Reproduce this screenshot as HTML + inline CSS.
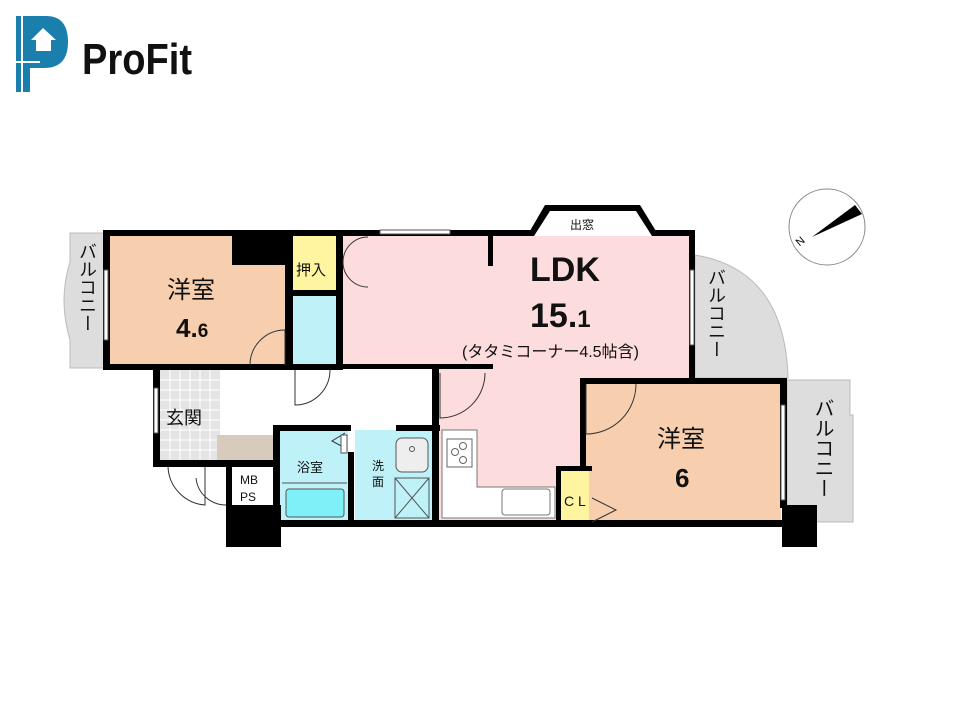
<!DOCTYPE html>
<html><head><meta charset="utf-8"><style>
html,body{margin:0;padding:0;background:#fff;width:960px;height:720px;overflow:hidden}
text{font-family:"Liberation Sans","Noto Sans CJK JP",sans-serif}
</style></head><body>
<svg width="960" height="720" viewBox="0 0 960 720" xmlns="http://www.w3.org/2000/svg">
<!-- logo -->
<path d="M16 16 H46 Q68 16 68 42 Q68 68 44 68 H30 V92 H16 Z" fill="#1b7fae"/>
<path d="M22 16 V92 M16 62 H40" stroke="#fff" stroke-width="2"/>
<path d="M31 40 L43 28 L56 40 H51 V51 H36 V40 Z" fill="#fff"/>
<text x="82" y="74" font-size="44" font-weight="bold" fill="#111" textLength="110" lengthAdjust="spacingAndGlyphs">ProFit</text>

<!-- balconies -->
<path d="M70 233 H105 V368 H70 V340 Q58 300 70 262 Z" fill="#ddd" stroke="#bbb"/>
<path d="M695 255 Q785 270 788 378 H695 Z" fill="#ddd" stroke="#bbb"/>
<path d="M787 380 H850 V415 H853 V522 H787 Z" fill="#ddd" stroke="#bbb"/>

<!-- room fills -->
<rect x="110" y="236" width="180" height="130" fill="#f8cfae"/>
<rect x="293" y="236" width="44" height="56" fill="#fff5a0"/>
<rect x="293" y="295" width="43" height="70" fill="#bff1f8"/>
<rect x="342" y="236" width="348" height="130" fill="#fcdcdc"/>
<rect x="438" y="364" width="252" height="16" fill="#fcdcdc"/>
<path d="M530 236 L550 210 H636 L656 236 Z" fill="#fff"/>
<rect x="438" y="366" width="143" height="156" fill="#fcdcdc"/>
<rect x="586" y="384" width="195" height="138" fill="#f8cfae"/>
<rect x="561" y="470" width="28" height="52" fill="#fff5a0"/>
<rect x="160" y="370" width="60" height="92" fill="#e4e4e4"/>
<g stroke="#fff" stroke-width="1">
<path d="M160 380H220M160 390H220M160 400H220M160 410H220M160 420H220M160 430H220M160 440H220M160 450H220M170 370V462M180 370V462M190 370V462M200 370V462M210 370V462"/>
</g>
<rect x="217" y="435" width="57" height="26" fill="#d6cbbd"/>
<rect x="280" y="430" width="68" height="92" fill="#bff1f8"/>
<rect x="355" y="430" width="78" height="92" fill="#bff1f8"/>
<rect x="286" y="489" width="58" height="28" rx="3" fill="#7ff0f8" stroke="#555"/>
<path d="M282 483 H347" stroke="#555"/>
<rect x="396" y="438" width="32" height="34" rx="6" fill="#eee" stroke="#555"/>
<circle cx="412" cy="449" r="2.5" fill="none" stroke="#555"/>
<rect x="395" y="478" width="34" height="40" fill="none" stroke="#555"/>
<path d="M395 478 L429 518 M429 478 L395 518" stroke="#555"/>
<!-- kitchen -->
<path d="M442 430 H477 V487 H555 V518 H442 Z" fill="#fff" stroke="#777"/>
<rect x="447" y="439" width="25" height="28" fill="none" stroke="#666"/>
<circle cx="455" cy="452" r="3.5" fill="none" stroke="#666"/><circle cx="463" cy="446" r="3.5" fill="none" stroke="#666"/><circle cx="463" cy="460" r="3.5" fill="none" stroke="#666"/>
<rect x="502" y="489" width="48" height="26" rx="3" fill="none" stroke="#777"/>

<!-- walls -->
<g fill="#000">
<rect x="103" y="230" width="430" height="6"/>
<rect x="655" y="230" width="40" height="6"/>
<path d="M527 236 L545 205 H640 L659 236 H652 L636 211 H550 L534 236 Z"/>
<rect x="103" y="230" width="7" height="140"/>
<rect x="232" y="236" width="58" height="29"/>
<rect x="285" y="236" width="8" height="134"/>
<rect x="336" y="236" width="7" height="134"/>
<rect x="293" y="290" width="44" height="6"/>
<rect x="103" y="364" width="240" height="6"/>
<rect x="343" y="364" width="150" height="5"/>
<rect x="488" y="236" width="5" height="30"/>
<rect x="689" y="230" width="6" height="150"/>
<rect x="580" y="378" width="207" height="6"/>
<rect x="580" y="378" width="6" height="92"/>
<rect x="556" y="466" width="36" height="5"/>
<rect x="556" y="466" width="5" height="60"/>
<rect x="780" y="378" width="7" height="130"/>
<rect x="782" y="505" width="35" height="42"/>
<rect x="153" y="364" width="7" height="100"/>
<rect x="153" y="460" width="120" height="7"/>
<rect x="273" y="425" width="78" height="6"/>
<rect x="396" y="425" width="44" height="6"/>
<rect x="273" y="425" width="7" height="100"/>
<rect x="348" y="452" width="6" height="72"/>
<rect x="432" y="366" width="7" height="160"/>
<rect x="226" y="505" width="55" height="42"/>
<rect x="226" y="464" width="6" height="45"/>
<rect x="273" y="520" width="510" height="7"/>
</g>
<!-- windows -->
<g fill="#fff" stroke="#555">
<rect x="380" y="230" width="70" height="4"/>
<rect x="104" y="270" width="4" height="70"/>
<rect x="690" y="270" width="4" height="75"/>
<rect x="781" y="405" width="4" height="95"/>
<rect x="154" y="388" width="4" height="45"/>
</g>
<!-- doors -->
<g fill="none" stroke="#333" stroke-width="1">
<path d="M250 365 A35 35 0 0 1 285 330 M285 330 V365"/>
<path d="M343 262 A25 25 0 0 1 368 237 M343 262 A25 25 0 0 0 368 287"/>
<path d="M295 370 V405 A35 35 0 0 0 330 370"/>
<path d="M440 373 V418 A45 45 0 0 0 485 373"/>
<path d="M586 384 V434 A50 50 0 0 0 636 384"/>
<path d="M168 467 A40 40 0 0 0 205 505 V467"/>
<path d="M196 478 A30 30 0 0 0 226 505"/>
<path d="M345 433 L332 441 L345 448"/>
<path d="M592 498 L616 510 L592 522"/>
</g>
<rect x="341" y="435" width="6" height="18" fill="#fff" stroke="#555"/>
<rect x="232" y="468" width="41" height="37" fill="#fff"/>

<!-- compass -->
<circle cx="827" cy="227" r="38" fill="#fff" stroke="#888"/>
<path d="M812 237 L855 205 L862 214 Z" fill="#000"/>
<text x="796" y="245" font-size="11" transform="rotate(-40 800 241)">N</text>

<!-- labels -->
<g fill="#111">
<text x="167" y="298" font-size="24">洋室</text>
<text x="176" y="337" font-size="26" font-weight="bold">4.<tspan font-size="19">6</tspan></text>
<text x="296" y="275" font-size="15">押入</text>
<text x="530" y="281" font-size="34" font-weight="bold">LDK</text>
<text x="530" y="327" font-size="34" font-weight="bold">15.<tspan font-size="24">1</tspan></text>
<text x="462" y="357" font-size="16">(タタミコーナー4.5帖含)</text>
<text x="570" y="229" font-size="12">出窓</text>
<text x="657" y="447" font-size="24">洋室</text>
<text x="675" y="487" font-size="26" font-weight="bold">6</text>
<text x="564" y="506" font-size="14">C L</text>
<text x="166" y="424" font-size="18">玄関</text>
<text x="297" y="472" font-size="13">浴室</text>
<text x="372" y="470" font-size="12">洗</text>
<text x="372" y="486" font-size="12">面</text>
<text x="240" y="484" font-size="12">MB</text>
<text x="240" y="501" font-size="12">PS</text>
</g>
<g fill="#111">
<text x="87" y="242" style="writing-mode:vertical-rl" font-size="18">バルコニー</text>
<text x="716" y="268" style="writing-mode:vertical-rl" font-size="18">バルコニー</text>
<text x="822" y="398" style="writing-mode:vertical-rl" font-size="20">バルコニー</text>
</g>
</svg>
</body></html>
